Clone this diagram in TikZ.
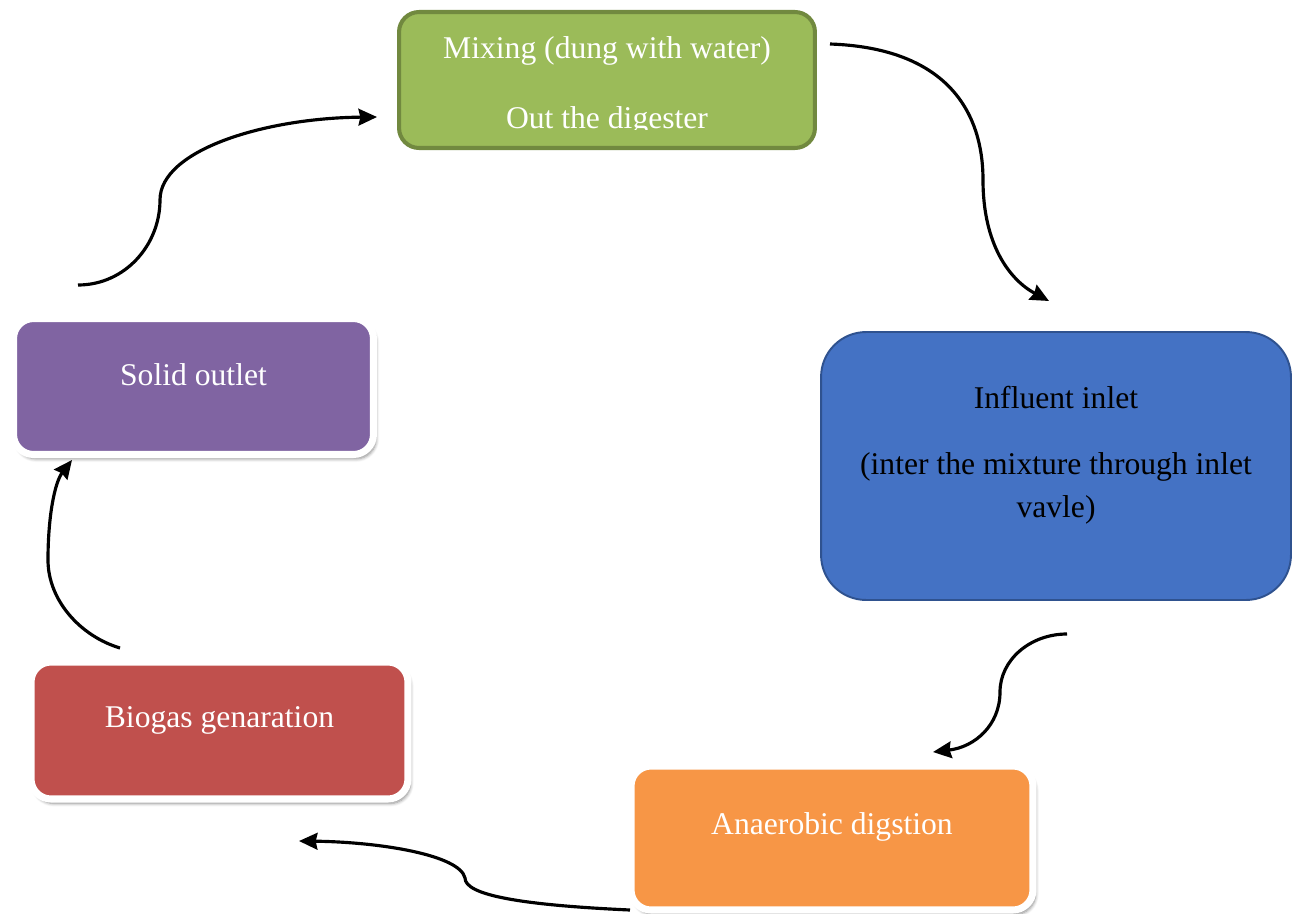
\documentclass[tikz,border=0pt]{standalone}
\usepackage{fontspec}
\setmainfont{Liberation Serif}
\usetikzlibrary{shapes,arrows.meta,positioning,calc,shadows.blur}

\definecolor{mixgreen}{HTML}{9BBB59}
\definecolor{mixedge}{HTML}{71893F}
\definecolor{inblue}{HTML}{4472C4}
\definecolor{inedge}{HTML}{2F528F}
\definecolor{solidpurple}{HTML}{8064A2}
\definecolor{gasred}{HTML}{C0504D}
\definecolor{digorange}{HTML}{F79646}

\tikzset{
  stage/.style={rectangle, rounded corners=0.4cm, draw=white, line width=4pt,
    blur shadow={shadow xshift=1.5pt, shadow yshift=-2.5pt, shadow blur steps=6, shadow opacity=45}},
  txt/.style={draw=none, font=\fontsize{18}{24.5}\selectfont, text=white, align=center},
  flow/.style={-{Stealth[length=10.5pt,width=9.5pt,inset=1pt]}, line width=1.8pt},
}

\begin{document}
\begin{tikzpicture}[x=0.02cm, y=-0.02cm]
\useasboundingbox (0,0) rectangle (1295,913);

% Mixing
\node[rectangle, rounded corners=0.4cm, fill=mixgreen, draw=mixedge, line width=2.3pt,
  minimum width=8.32cm, minimum height=2.72cm] (mix) at (607,80) {};
\node[txt] (mixtxt) at (607,51) {Mixing (dung with water)};
\begin{scope}
  \clip (397,10) rectangle (817,129);
  \node[txt] (mixtxtb) at (607,121) {Out the digester};
\end{scope}

% Influent inlet
\node[rectangle, rounded corners=0.9cm, fill=inblue, draw=inedge, line width=1.1pt,
  minimum width=9.4cm, minimum height=5.36cm] (inlet) at (1056,466) {};
\node[txt, text=black] (inlettxt) at (1056,398) {Influent inlet};
\node[txt, text=black] (inlettxtb) at (1056,488) {(inter the mixture through inlet\\vavle)};

% Anaerobic digestion
\node[stage, fill=digorange, minimum width=8.04cm, minimum height=2.88cm] (dig) at (832,838) {};
\node[txt] (digtxt) at (832,827) {Anaerobic digstion};

% Biogas generation
\node[stage, fill=gasred, minimum width=7.54cm, minimum height=2.74cm] (gas) at (219.5,730.5) {};
\node[txt] (gastxt) at (219.5,720) {Biogas genaration};

% Solid outlet
\node[stage, fill=solidpurple, minimum width=7.2cm, minimum height=2.72cm] (solid) at (193.5,386.5) {};
\node[txt] (solidtxt) at (193.5,375) {Solid outlet};

% Arrow ends
\coordinate (mixout) at (830,44);
\coordinate (inletin) at (1049,301);
\coordinate (inletout) at (1067,634);
\coordinate (digin) at (933,752);
\coordinate (digout) at (630,910);
\coordinate (gasin) at (299,841);
\coordinate (gasout) at (120,648);
\coordinate (solidin) at (72,460);
\coordinate (solidout) at (78,285);
\coordinate (mixin) at (377,117);

% Cycle arrows
\draw[flow] (mixout) .. controls (945,48) and (983,110) .. (983,180)
  .. controls (983,245) and (1010,280) .. (inletin);
\draw[flow] (inletout) .. controls (1030,634) and (1000,660) .. (1000,692)
  .. controls (1000,725) and (975,747) .. (digin);
\draw[flow] (digout) .. controls (520,905) and (465,895) .. (465,878)
  .. controls (460,855) and (380,842) .. (gasin);
\draw[flow] (gasout) .. controls (80,636) and (48,600) .. (48,560)
  .. controls (48,515) and (55,482) .. (solidin);
\draw[flow] (solidout) .. controls (125,285) and (160,245) .. (160,200)
  .. controls (160,150) and (265,118) .. (mixin);

\end{tikzpicture}
\end{document}
